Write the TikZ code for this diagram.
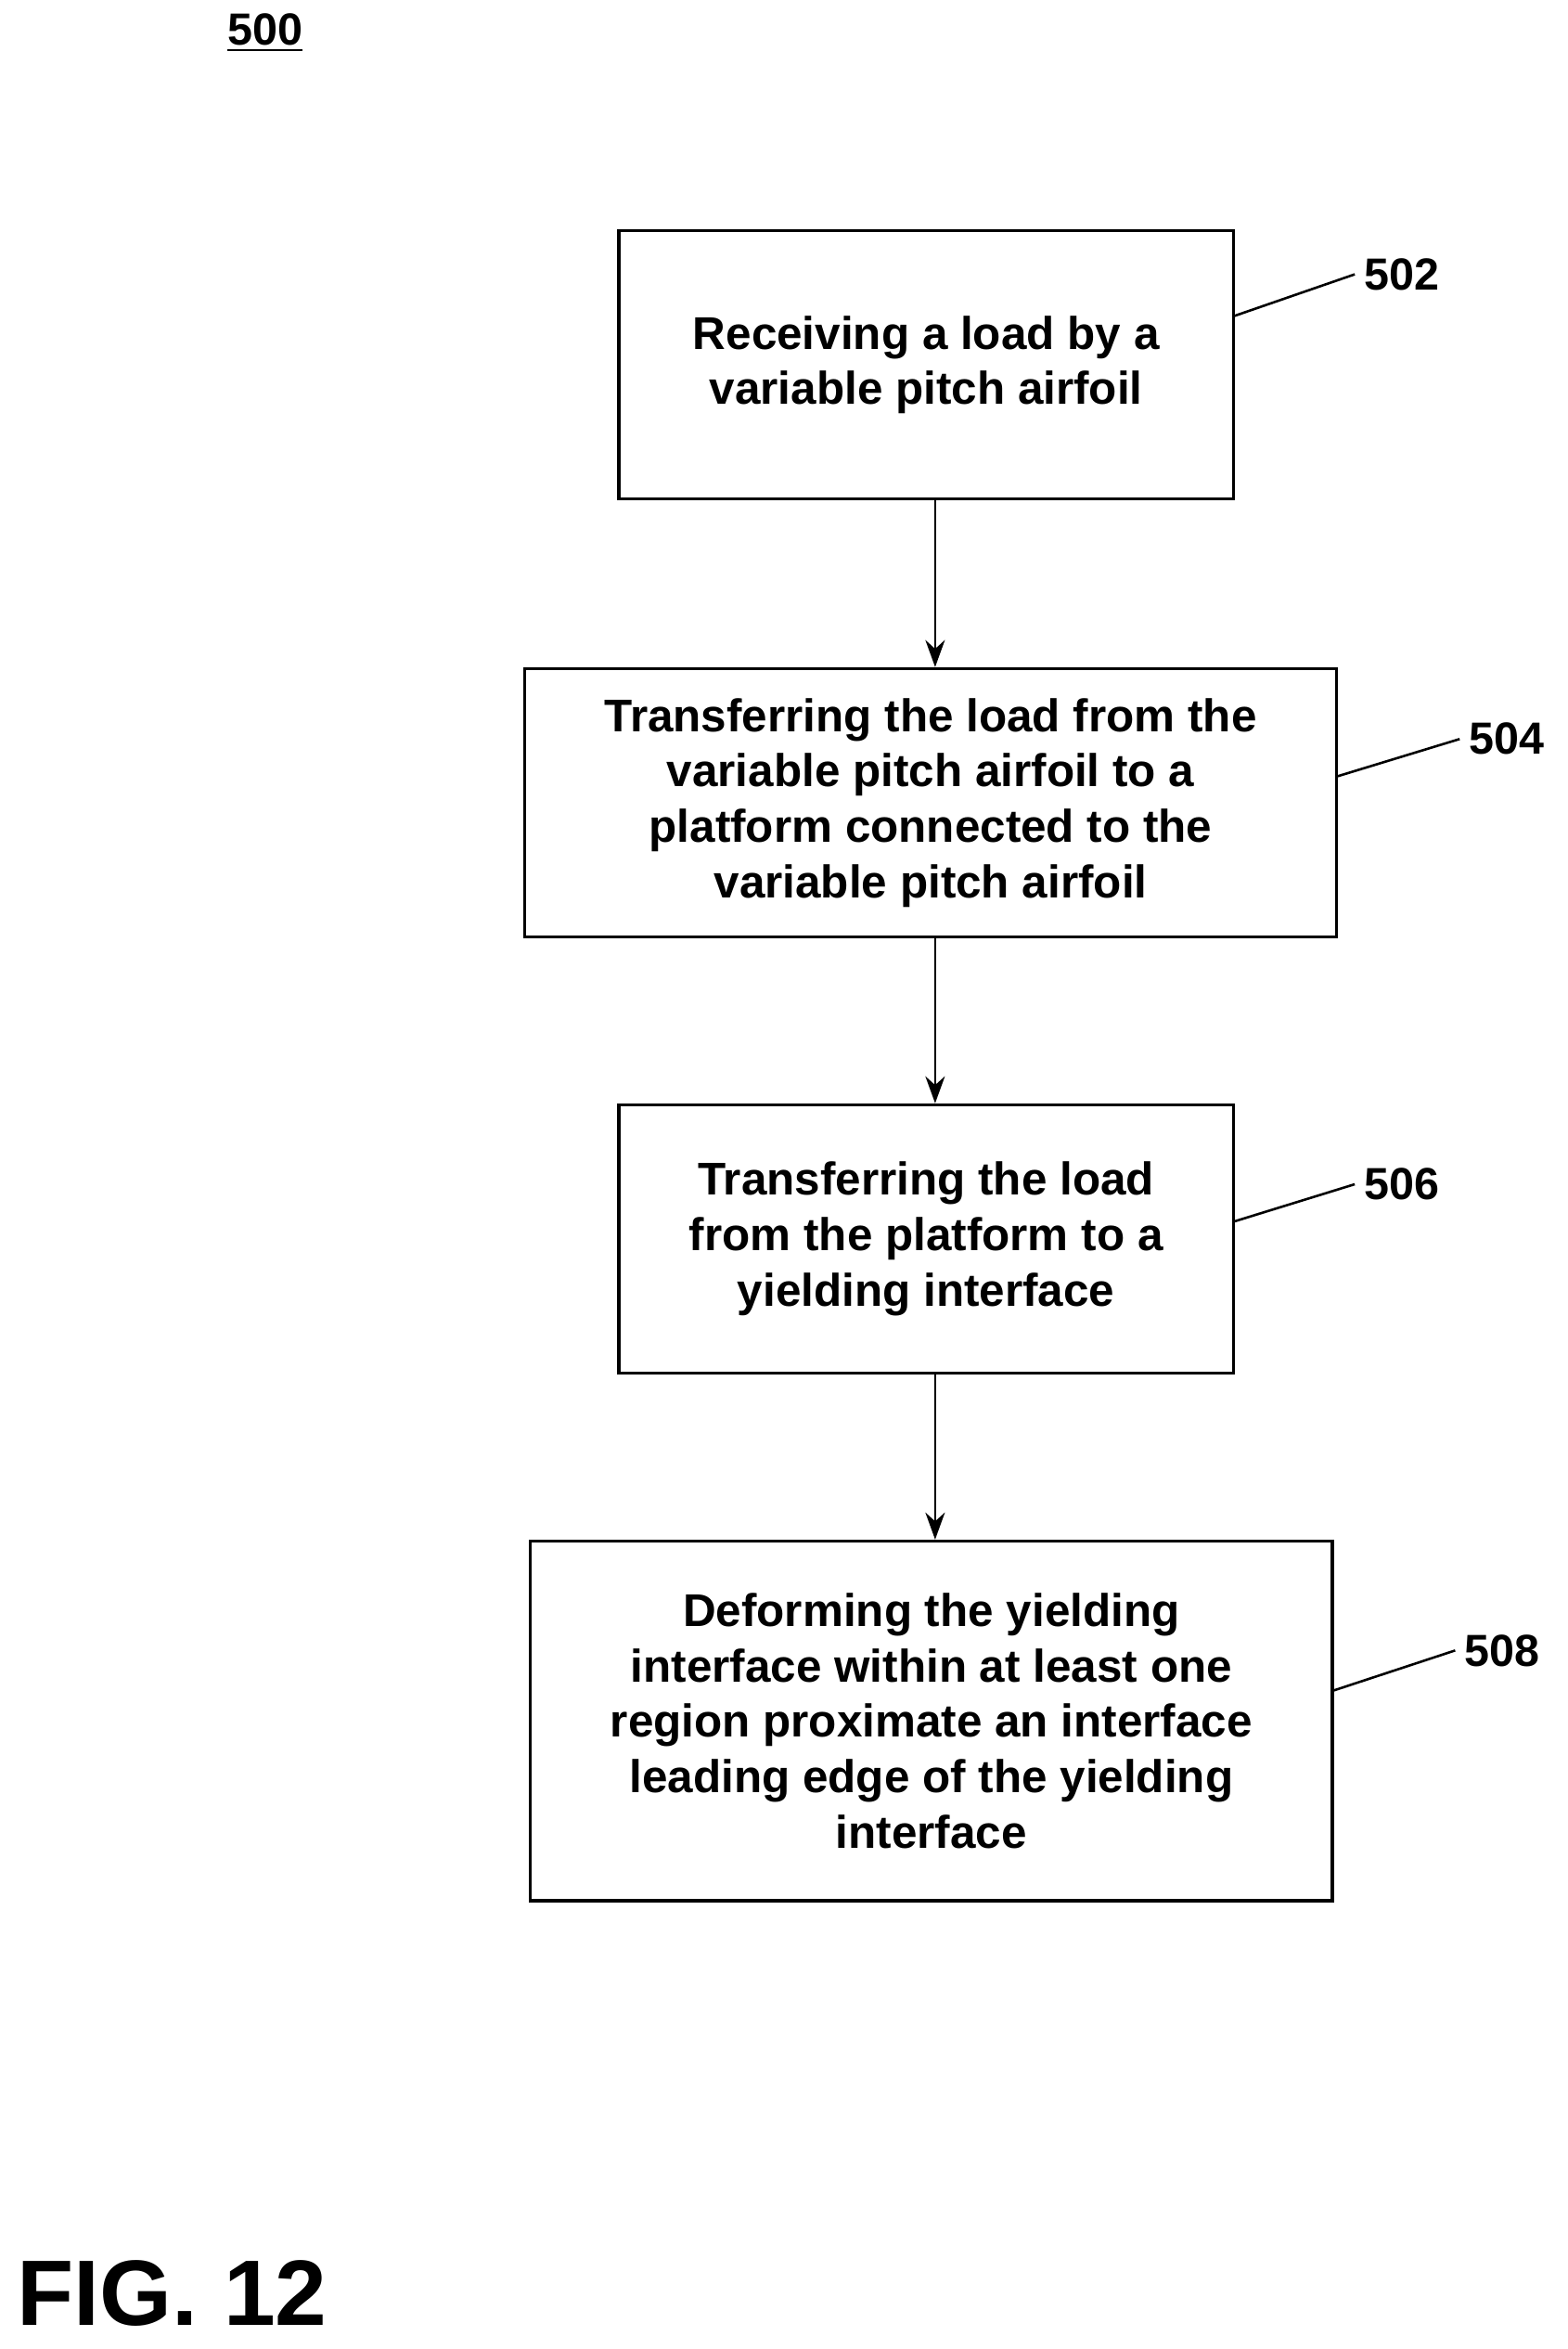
\documentclass[tikz,border=0pt]{standalone}
\usepackage{fontspec}
\setmainfont{Liberation Sans}
\usetikzlibrary{arrows.meta}
\begin{document}
\begin{tikzpicture}[x=0.5pt,y=-0.5pt,
  box/.style={draw,line width=1pt,minimum width=#1,inner sep=0pt,align=center,
    font=\fontsize{15.3}{18.5}\selectfont\bfseries},
  arr/.style={-{Stealth[length=9pt,width=6.5pt]},line width=0.8pt},
  lab/.style={font=\fontsize{15}{16}\selectfont\bfseries,anchor=west,inner sep=0pt},
  lead/.style={line width=0.8pt}]
\useasboundingbox (0,0) rectangle (1046,1567);
\node[box=205pt,minimum height=89.5pt] (b502) at (618,243.5) {Receiving a load by a\\variable pitch airfoil};
\node[box=271pt,minimum height=89.5pt] (b504) at (621,535.5) {Transferring the load from the\\variable pitch airfoil to a\\platform connected to the\\variable pitch airfoil};
\node[box=205pt,minimum height=89.5pt] (b506) at (618,826.5) {Transferring the load\\from the platform to a\\yielding interface};
\node[box=267.5pt,minimum height=120pt] (b508) at (621.5,1148) {Deforming the yielding\\interface within at least one\\region proximate an interface\\leading edge of the yielding\\interface};
\coordinate (ax) at (624,0);
\draw[arr] (b502.south -| ax) -- (b504.north -| ax);
\draw[arr] (b504.south -| ax) -- (b506.north -| ax);
\draw[arr] (b506.south -| ax) -- (b508.north -| ax);
\node[lab] (l502) at (910,183) {502};
\node[lab] (l504) at (980,493) {504};
\node[lab] (l506) at (910,790) {506};
\node[lab] (l508) at (977,1101) {508};
\coordinate (c502) at (823,211); \coordinate (c504) at (892,518);
\coordinate (c506) at (823,815); \coordinate (c508) at (889,1128);
\draw[lead] (c502) -- ([xshift=-3pt]l502.west);
\draw[lead] (c504) -- ([xshift=-3pt]l504.west);
\draw[lead] (c506) -- ([xshift=-3pt]l506.west);
\draw[lead] (c508) -- ([xshift=-3pt]l508.west);
\node[font=\fontsize{15}{16}\selectfont\bfseries,inner sep=0pt] (t500) at (177,22) {\underline{500}};
\node[font=\fontsize{31}{36}\selectfont\bfseries,inner sep=0pt] (fig) at (115,1530) {FIG. 12};
\end{tikzpicture}
\end{document}
